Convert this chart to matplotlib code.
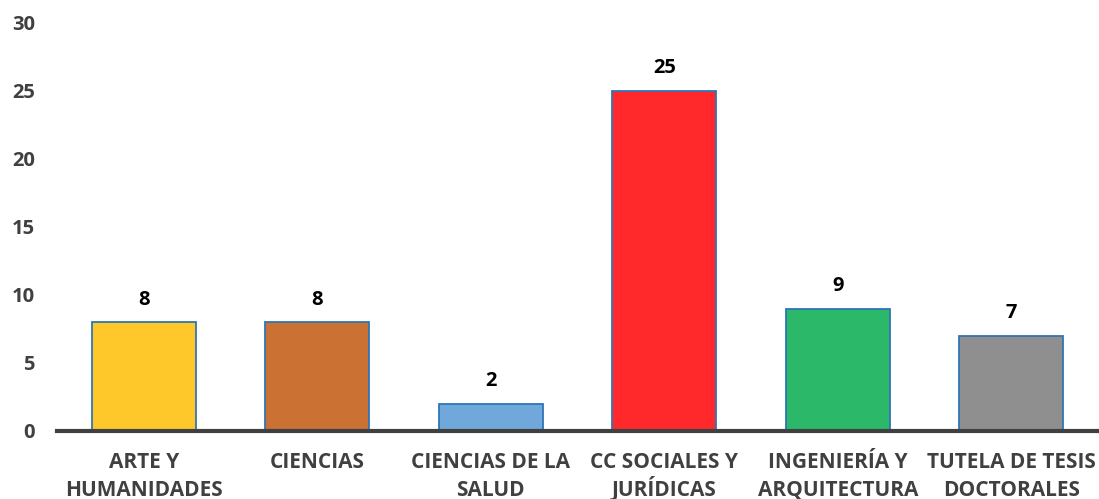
import matplotlib
matplotlib.use("Agg")
import matplotlib.pyplot as plt

categories = ["ARTE Y\nHUMANIDADES", "CIENCIAS", "CIENCIAS DE LA\nSALUD",
              "CC SOCIALES Y\nJURÍDICAS", "INGENIERÍA Y\nARQUITECTURA", "TUTELA DE TESIS\nDOCTORALES"]
values = [8, 8, 2, 25, 9, 7]
colors = ["#FEC82A", "#CB7134", "#70A8DC", "#FF282B", "#2BB969", "#8F8F8F"]
yticks = [0, 5, 10, 15, 20, 25, 30]

plt.rcParams["font.family"] = ["Open Sans", "DejaVu Sans"]

fig = plt.figure(figsize=(10.99, 4.99), dpi=100)
ax = fig.add_axes([57 / 1099, 68 / 499, 1041 / 1099, 408 / 499])

x = list(range(len(categories)))
ax.bar(x, values, width=0.6, color=colors, edgecolor="#2E75B6", linewidth=1.3, zorder=2)

for xi, v in zip(x, values):
    ax.annotate(str(v), (xi, v), xytext=(0, 9), textcoords="offset points",
                ha="center", va="bottom", fontsize=14.5, fontweight="bold", color="black")

ax.set_xlim(-0.5, len(categories) - 0.5)
ax.set_ylim(0, 30)
ax.set_yticks(yticks)
ax.set_xticks(x)
ax.set_xticklabels([])

# category labels, one baseline per line so accented lines stay aligned
line_offsets = [-26.5, -46.5]
for xi, label in zip(x, categories):
    for off, line in zip(line_offsets, label.split("\n")):
        ax.annotate(line, (xi, 0), xycoords=("data", "axes fraction"),
                    xytext=(0, off), textcoords="offset points",
                    ha="center", va="baseline", fontsize=15, fontweight="bold",
                    color="#404040", annotation_clip=False)

for side in ["top", "right", "left"]:
    ax.spines[side].set_visible(False)
ax.spines["bottom"].set_color("#404040")
ax.spines["bottom"].set_linewidth(3)
ax.spines["bottom"].set_zorder(3)

ax.tick_params(axis="y", length=0, colors="#404040", labelsize=14.5, pad=16)
ax.tick_params(axis="x", length=0)
for lab in ax.get_yticklabels():
    lab.set_fontweight("bold")

fig.savefig("out.png", dpi=100)
